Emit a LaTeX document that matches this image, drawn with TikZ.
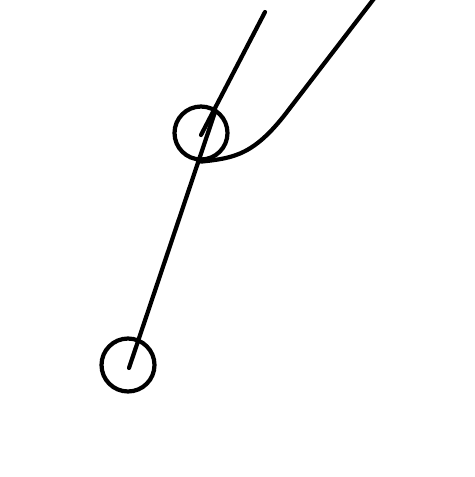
\documentclass[tikz,border=0pt]{standalone}
\usepackage{tikz}
\usetikzlibrary{positioning, calc}

\tikzset{
  joint/.style={draw, circle, line width=2.4pt, minimum size=1.06cm, inner sep=0pt},
  stroke/.style={line width=2.4pt, line cap=round}
}

\begin{document}
\begin{tikzpicture}[x=0.02cm, y=-0.02cm]
  \useasboundingbox (0,0) rectangle (474,477);

  % Joints
  \node[joint] (upper) at (201,133) {};
  \node[joint] (lower) at (128,365) {};

  % Free ends
  \coordinate (top) at (265,12);
  \coordinate (mid) at (215,112);
  \coordinate (tail) at (376,-4);
  \coordinate (bend) at (290,108);

  % Segments
  \draw[stroke] (top) -- ($(upper.center)+(0,2)$);
  \draw[stroke] (mid) -- ($(lower.center)+(1,3)$);

  % Curve
  \draw[stroke] (tail) -- (bend) .. controls (255,155) and (235,158) .. (upper.south);
\end{tikzpicture}
\end{document}
